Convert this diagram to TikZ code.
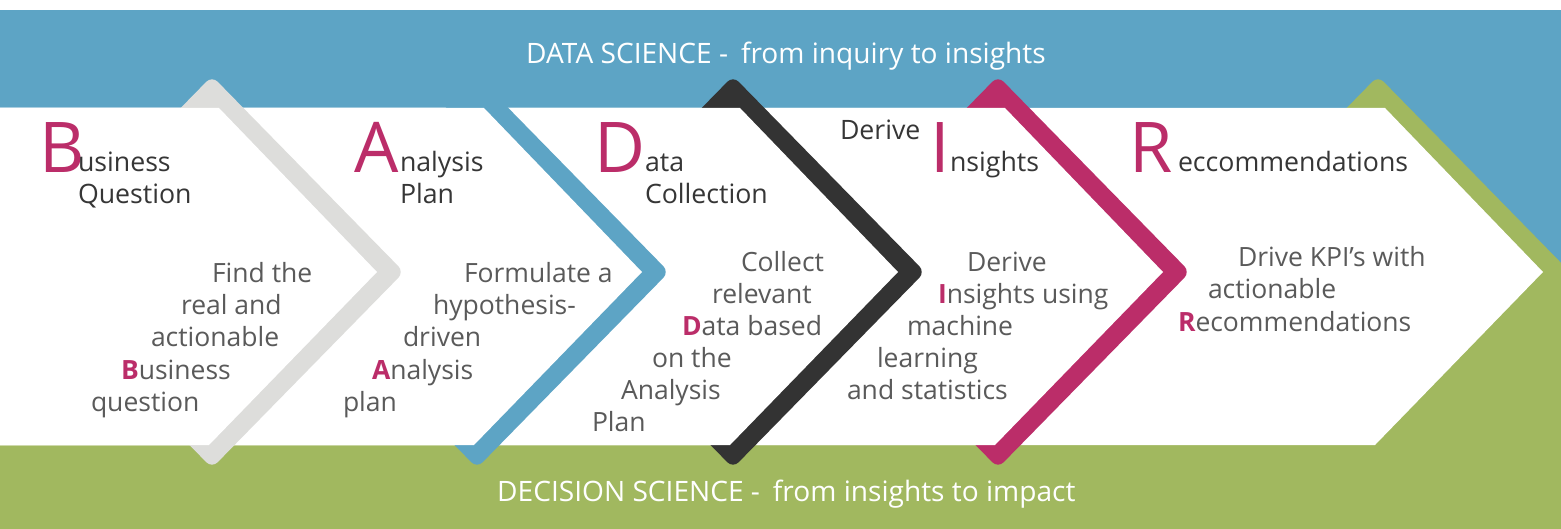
\documentclass[tikz,border=0pt]{standalone}
\usepackage{fontspec}
\setmainfont{Open Sans}
\definecolor{bandblue}{HTML}{5DA4C5}
\definecolor{bandgreen}{HTML}{A1B85F}
\definecolor{stepgray}{HTML}{DDDDDB}
\definecolor{stepblack}{HTML}{333333}
\definecolor{stepmag}{HTML}{BB2D69}
\definecolor{headcol}{HTML}{363636}
\definecolor{desccol}{HTML}{5A5A5A}
\newcommand{\mkB}[1]{{\bfseries\color{stepmag}#1}}
\newcommand{\drawstepshape}[2]{%
  \fill[#2, rounded corners=8pt] (#1,76) -- ({#1+192},272) -- (#1,468) -- ({#1-192},272) -- cycle;
  \fill[white] (0,108) -- ({#1+7},108) -- ({#1+165},272) -- ({#1-3},445) -- (0,445) -- cycle;
}
\tikzset{
  txt/.style={inner sep=0pt, outer sep=0pt, anchor=base west},
  bigletter/.style={txt, text=stepmag, font=\fontsize{70}{70}\selectfont},
  headtext/.style={txt, text=headcol, font=\fontsize{26.7}{32}\selectfont},
  desctext/.style={txt, text=desccol, font=\fontsize{26.5}{32}\selectfont},
  titletext/.style={inner sep=0pt, anchor=base west, text=white, font=\fontsize{28.1}{34}\selectfont},
}
\begin{document}
\begin{tikzpicture}[x=1pt,y=-1pt]
\useasboundingbox (0,0) rectangle (1561,529);
% bands
\fill[bandblue] (0,10) rectangle (1561,272);
\fill[bandgreen] (0,272) rectangle (1561,529);
% steps, drawn right to left
\drawstepshape{1378}{bandgreen}
\drawstepshape{998}{stepmag}
\drawstepshape{733}{stepblack}
\drawstepshape{477}{bandblue}
\drawstepshape{212}{stepgray}
% titles
\node[titletext] (toptitle) at (526,64) {DATA SCIENCE -\hspace{0.2em} from inquiry to insights};
\node[titletext] (bottitle) at (497,501) {DECISION SCIENCE -\hspace{0.2em} from insights to impact};
% headings
\node[bigletter] (hB) at (39,173) {B};
\node[headtext] (h1a) at (78,172) {usiness};
\node[headtext] (h1b) at (78,204) {Question};
\node[bigletter] (hA) at (354,173) {A};
\node[headtext] (h2a) at (400,172) {nalysis};
\node[headtext] (h2b) at (400,204) {Plan};
\node[bigletter] (hD) at (594,173) {D};
\node[headtext] (h3a) at (645,172) {ata};
\node[headtext] (h3b) at (645,204) {Collection};
\node[headtext] (h4a) at (840,140) {Derive};
\node[bigletter] (hI) at (930,173) {I};
\node[headtext] (h4b) at (950,172) {nsights};
\node[bigletter] (hR) at (1129,173) {R};
\node[headtext] (h5a) at (1178,172) {eccommendations};
% descriptions
\node[desctext] (d1a) at (212,283) {Find the};
\node[desctext] (d1b) at (181,315) {real and};
\node[desctext] (d1c) at (151,347) {actionable};
\node[desctext] (d1d) at (121,379) {\mkB{B}usiness};
\node[desctext] (d1e) at (91,411) {question};
\node[desctext] (d2a) at (464,283) {Formulate a};
\node[desctext] (d2b) at (433,315) {hypothesis-};
\node[desctext] (d2c) at (403,347) {driven};
\node[desctext] (d2d) at (372,379) {\mkB{A}nalysis};
\node[desctext] (d2e) at (343,411) {plan};
\node[desctext] (d3a) at (741,272) {Collect};
\node[desctext] (d3b) at (712,304) {relevant};
\node[desctext] (d3c) at (682,336) {\mkB{D}ata based};
\node[desctext] (d3d) at (652,367) {on the};
\node[desctext] (d3e) at (621,399) {Analysis};
\node[desctext] (d3f) at (592,431) {Plan};
\node[desctext] (d4a) at (967,272) {Derive};
\node[desctext] (d4b) at (938,304) {\mkB{I}nsights using};
\node[desctext] (d4c) at (907,336) {machine};
\node[desctext] (d4d) at (877,367) {learning};
\node[desctext] (d4e) at (847,399) {and statistics};
\node[desctext] (d5a) at (1238,267) {Drive KPI’s with};
\node[desctext] (d5b) at (1208,299) {actionable};
\node[desctext] (d5c) at (1178,332) {\mkB{R}ecommendations};
\end{tikzpicture}
\end{document}
